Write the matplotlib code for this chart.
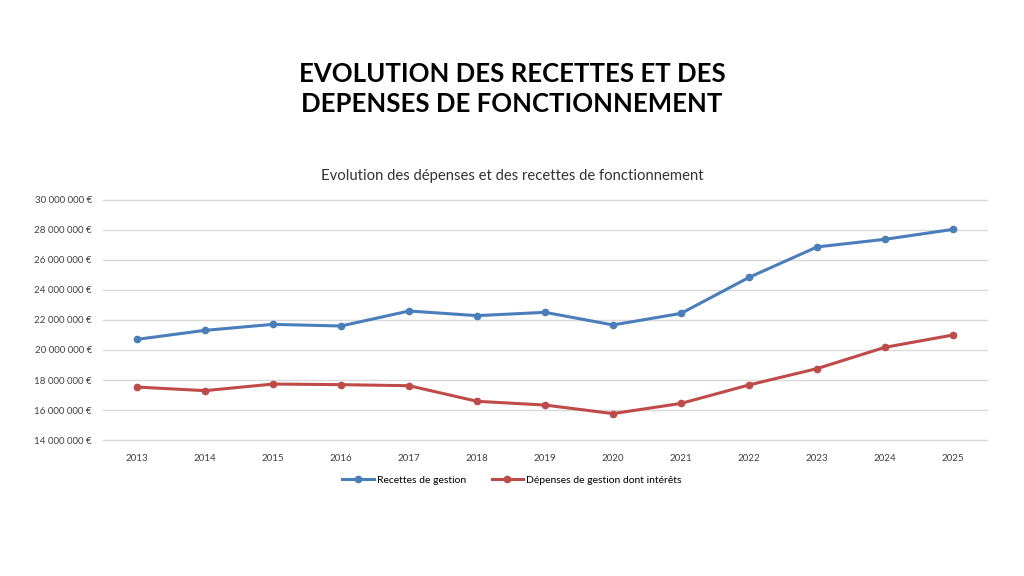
"""Evolution des recettes et des dépenses de fonctionnement (1024x576)."""
import matplotlib
import matplotlib.pyplot as plt
from matplotlib.ticker import FuncFormatter

matplotlib.use("Agg")

plt.rcParams["font.family"] = ["Lato", "DejaVu Sans"]

DPI = 100
FIGSIZE = (1024 / DPI, 576 / DPI)

annees = [2013, 2014, 2015, 2016, 2017, 2018, 2019, 2020, 2021, 2022, 2023, 2024, 2025]
recettes = [20.71, 21.31, 21.71, 21.60, 22.60, 22.29, 22.51, 21.67, 22.44, 24.84, 26.87, 27.38, 28.04]
depenses = [17.53, 17.29, 17.73, 17.69, 17.62, 16.58, 16.33, 15.76, 16.44, 17.67, 18.76, 20.18, 21.00]
recettes = [v * 1e6 for v in recettes]
depenses = [v * 1e6 for v in depenses]

BLEU = "#4A7EBB"
ROUGE = "#BE4B48"


def euros(v, _pos):
    return f"{int(v):,} €".replace(",", " ")


fig = plt.figure(figsize=FIGSIZE, dpi=DPI)
ax = fig.add_axes([0.1006, 0.2361, 0.8633, 0.4167])

x = list(range(len(annees)))
ax.plot(x, recettes, color=BLEU, lw=2.2, marker="o", ms=4.5, label="Recettes de gestion")
ax.plot(x, depenses, color=ROUGE, lw=2.2, marker="o", ms=4.5, label="Dépenses de gestion dont intérêts")

ax.set_xlim(-0.5, len(annees) - 0.5)
ax.set_ylim(14e6, 30e6)
ax.set_yticks([14e6 + 2e6 * i for i in range(9)])
ax.yaxis.set_major_formatter(FuncFormatter(euros))
ax.set_xticks(x)
ax.set_xticklabels([str(a) for a in annees])
ax.tick_params(axis="both", length=0, labelsize=7, colors="#404040")
ax.tick_params(axis="x", pad=10)
ax.tick_params(axis="y", pad=8)
ax.grid(axis="y", color="#D9D9D9", lw=1)
for g in ax.get_ygridlines():
    g.set_clip_on(False)
ax.set_axisbelow(True)
for s in ax.spines.values():
    s.set_visible(False)

fig.text(0.5, 0.845, "EVOLUTION DES RECETTES ET DES\nDEPENSES DE FONCTIONNEMENT",
         ha="center", va="center", fontsize=18.5, fontweight="bold", linespacing=1.3)
fig.text(0.5, 0.694, "Evolution des dépenses et des recettes de fonctionnement",
         ha="center", va="center", fontsize=10.7, color="#333333")

fig.legend(loc="center", bbox_to_anchor=(0.5, 0.166), ncol=2, frameon=False,
           fontsize=7.5, handlelength=3, columnspacing=2.5, handletextpad=0.3)

fig.savefig("out.png", dpi=DPI)
plt.close(fig)
